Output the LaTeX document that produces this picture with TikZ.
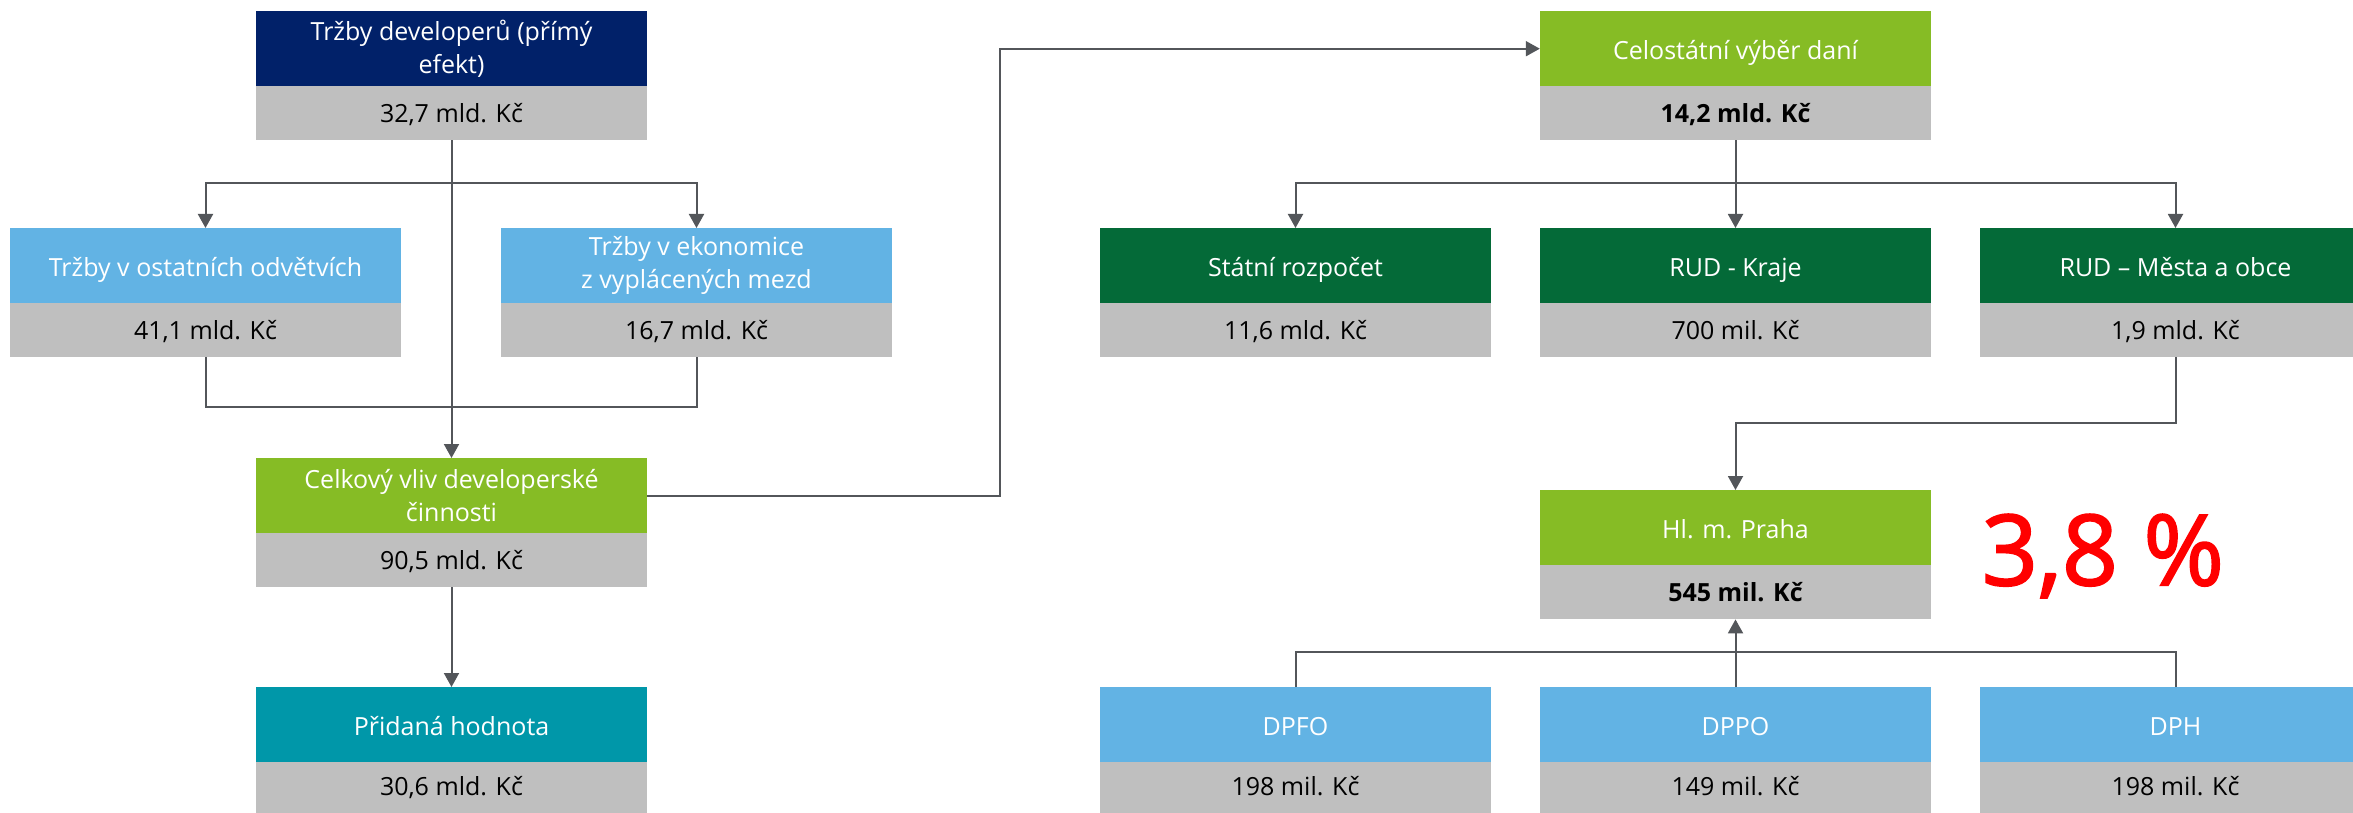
\documentclass[tikz,border=0pt]{standalone}
\usepackage{fontspec}
\setmainfont{Open Sans}
\newfontfamily\redfont{Open Sans}[FakeBold=2]
\usetikzlibrary{arrows.meta}
\definecolor{navy}{HTML}{012169}
\definecolor{lblue}{HTML}{62B3E4}
\definecolor{greyb}{HTML}{BFBFBF}
\definecolor{lime}{HTML}{86BC25}
\definecolor{dgreen}{HTML}{046A38}
\definecolor{teal2}{HTML}{0097A9}
\definecolor{linec}{HTML}{53565A}
\tikzset{
  tophead/.style={rectangle, anchor=north, minimum width=391pt, minimum height=75pt, inner sep=0pt, text=white, align=center, font=\fontsize{25}{33}\selectfont},
  onel/.style={text height=22pt, text depth=1pt},
  valbox/.style={rectangle, anchor=north, fill=greyb, minimum width=391pt, minimum height=54pt, inner sep=0pt, text=black, align=center, font=\fontsize{25}{33}\selectfont, text height=20pt, text depth=0.5pt},
  lowval/.style={minimum height=51pt, text height=16pt, text depth=0.5pt},
  conn/.style={draw=linec, line width=2pt},
  arr/.style={conn, -{Triangle[length=14pt,width=15pt]}}
}
\begin{document}
\begin{tikzpicture}[x=1pt,y=-1pt]
\useasboundingbox (0,0) rectangle (2353,813);
% left part
\node[tophead, fill=navy] (t0) at (451.5,11) {Tržby developerů (přímý\\efekt)};
\node[valbox] (t0v) at (451.5,86) {32,7 mld. Kč};
\node[tophead, onel, fill=lblue] (b1) at (205.5,228) {Tržby v ostatních odvětvích};
\node[valbox] (b1v) at (205.5,303) {41,1 mld. Kč};
\node[tophead, fill=lblue] (b2) at (696.5,228) {Tržby v ekonomice\\z vyplácených mezd};
\node[valbox] (b2v) at (696.5,303) {16,7 mld. Kč};
\node[tophead, fill=lime] (c) at (451.5,458) {Celkový vliv developerské\\činnosti};
\node[valbox] (cv) at (451.5,533) {90,5 mld. Kč};
\node[tophead, onel, fill=teal2] (p) at (451.5,687) {Přidaná hodnota};
\node[valbox, lowval] (pv) at (451.5,762) {30,6 mld. Kč};
% right part
\node[tophead, onel, fill=lime] (cel) at (1735.5,11) {Celostátní výběr daní};
\node[valbox] (celv) at (1735.5,86) {\textbf{14,2 mld. Kč}};
\node[tophead, onel, fill=dgreen] (s) at (1295.5,228) {Státní rozpočet};
\node[valbox] (sv) at (1295.5,303) {11,6 mld. Kč};
\node[tophead, onel, fill=dgreen] (k) at (1735.5,228) {RUD - Kraje};
\node[valbox] (kv) at (1735.5,303) {700 mil. Kč};
\node[tophead, onel, fill=dgreen] (m) at (2175.5,228) {RUD – Města a obce};
\node[valbox] (mv) at (2175.5,303) {1,9 mld. Kč};
\node[tophead, onel, fill=lime] (h) at (1735.5,490) {Hl. m. Praha};
\node[valbox] (hv) at (1735.5,565) {\textbf{545 mil. Kč}};
\node[tophead, onel, fill=lblue] (d1) at (1295.5,687) {DPFO};
\node[valbox, lowval] (d1v) at (1295.5,762) {198 mil. Kč};
\node[tophead, onel, fill=lblue] (d2) at (1735.5,687) {DPPO};
\node[valbox, lowval] (d2v) at (1735.5,762) {149 mil. Kč};
\node[tophead, onel, fill=lblue] (d3) at (2175.5,687) {DPH};
\node[valbox, lowval] (d3v) at (2175.5,762) {198 mil. Kč};
\node[text=red, font=\redfont\fontsize{98}{110}\selectfont, inner sep=0pt] (pct) at (2103,556) {3,8 \%};
% connectors left
\coordinate (j1) at (451.5,183);
\draw[arr] (t0v.south) -- (c.north);
\draw[arr] (j1) -| (b1.north);
\draw[arr] (j1) -| (b2.north);
\draw[conn] (b1v.south) -- ++(0,50) -| (b2v.south);
\draw[arr] (cv.south) -- (p.north);
\coordinate (kk) at (1000,0);
\draw[arr] (c.east) -| (kk |- cel.west) -- (cel.west);
% connectors right
\coordinate (j3) at (1735.5,183);
\draw[arr] (celv.south) -- (k.north);
\draw[arr] (j3) -| (s.north);
\draw[arr] (j3) -| (m.north);
\draw[arr] (mv.south) -- ++(0,66) -| (h.north);
\coordinate (j4) at (1735.5,652);
\draw[conn] (d1.north) |- (j4);
\draw[conn] (d3.north) |- (j4);
\draw[arr] (d2.north) -- (hv.south);
\end{tikzpicture}
\end{document}
